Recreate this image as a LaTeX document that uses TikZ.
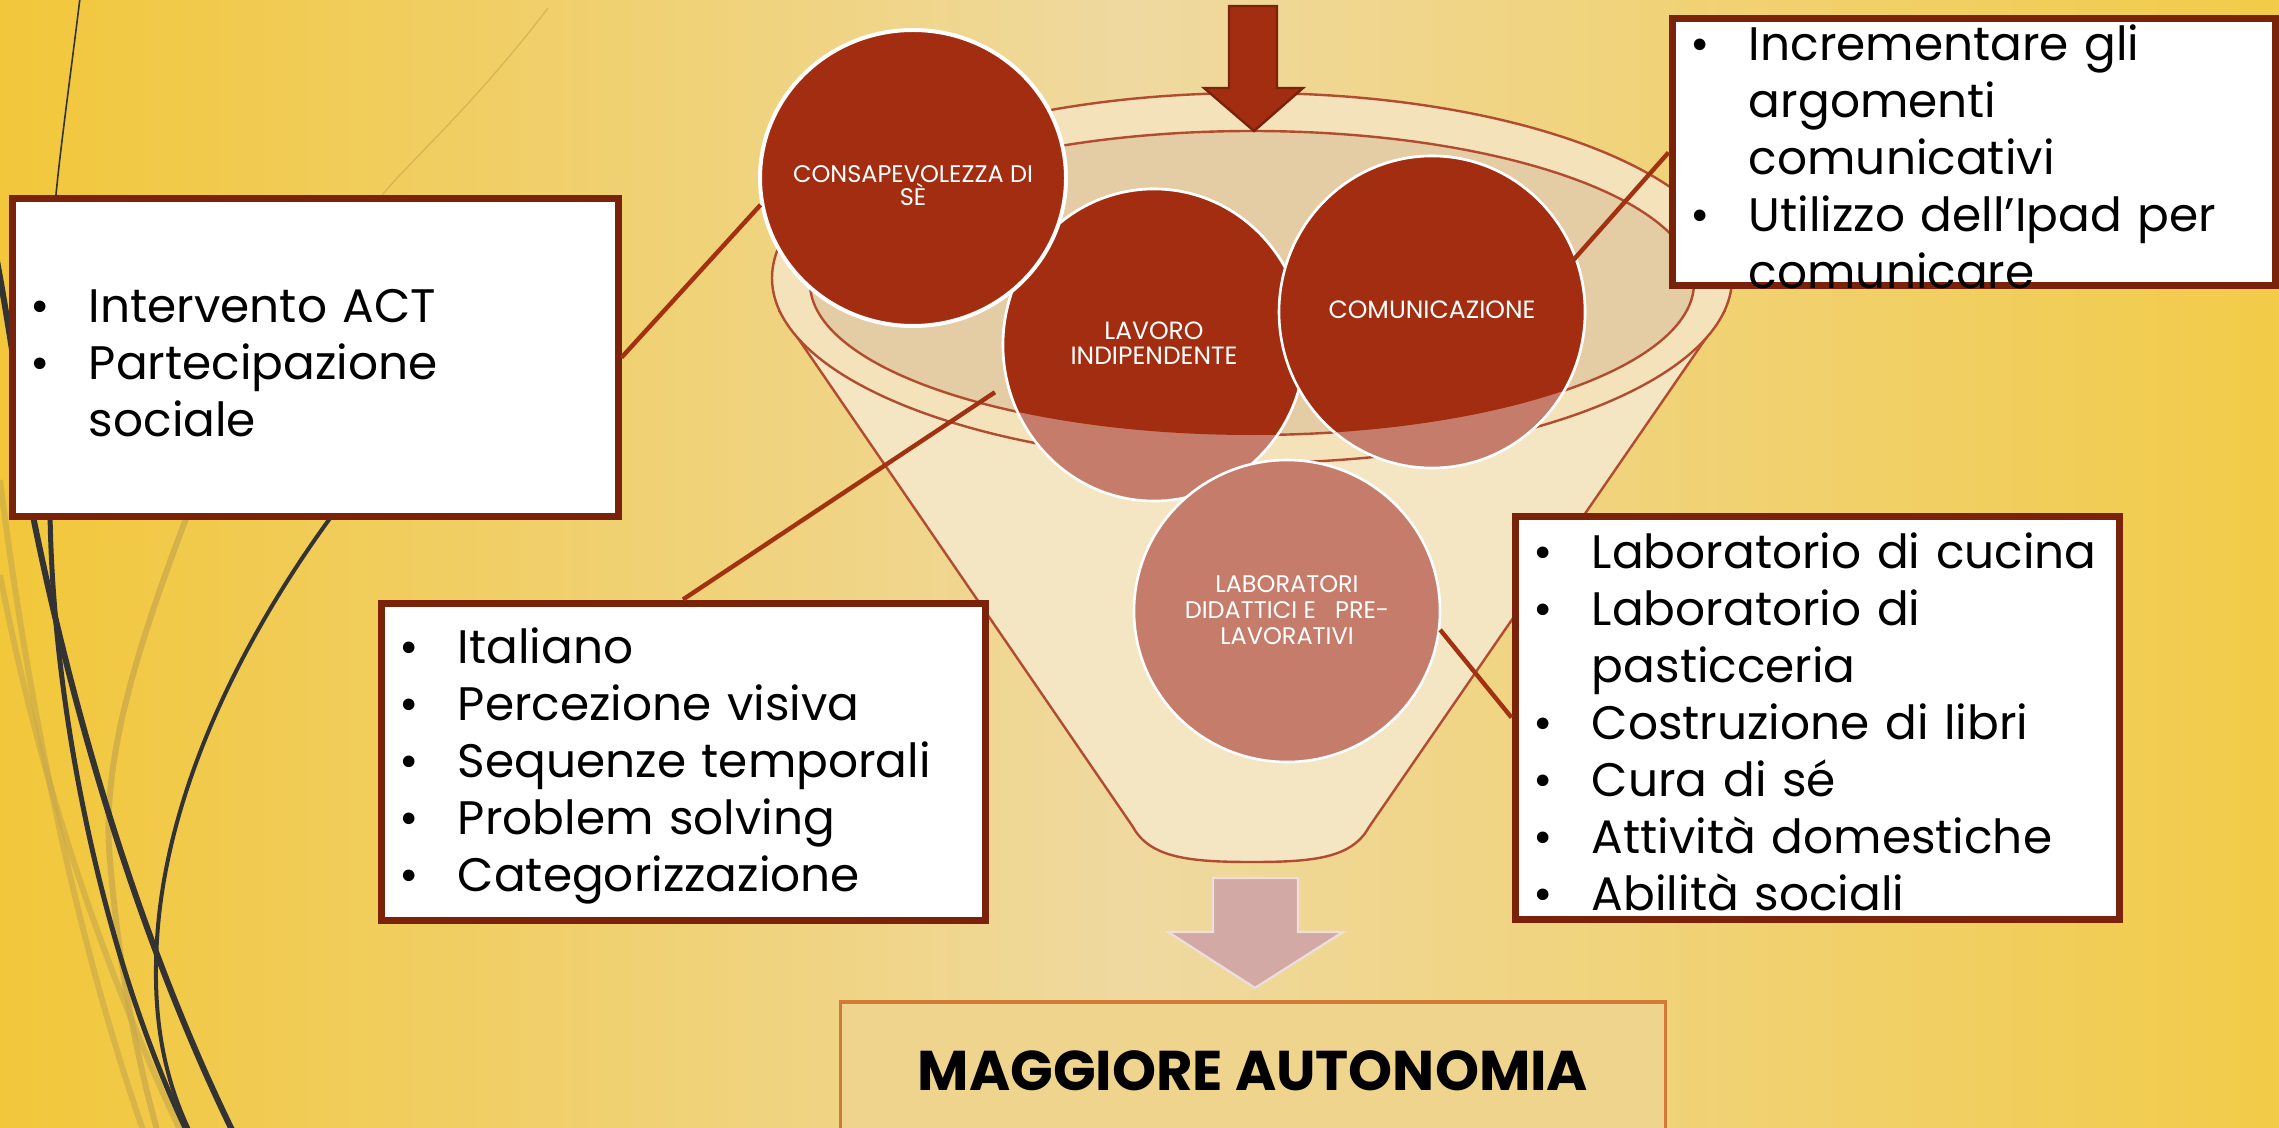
\documentclass[tikz,border=0pt]{standalone}
\usepackage{fontspec}
\setmainfont{Poppins}
\usetikzlibrary{shapes.geometric}
\definecolor{dred}{HTML}{A32D10}
\definecolor{rose}{HTML}{C67C6B}
\definecolor{boxred}{HTML}{7B220A}
\definecolor{connred}{HTML}{A23112}
\definecolor{rimred}{HTML}{B24B30}
\definecolor{cream}{HTML}{F4E6C2}
\definecolor{creamrim}{HTML}{F3E2BA}
\definecolor{tanin}{HTML}{E4CDA4}
\definecolor{bgyel}{HTML}{F2C73A}
\definecolor{bgpale}{HTML}{EFD9A0}
\definecolor{bgyeltwo}{HTML}{F2CB48}
\definecolor{pinkar}{HTML}{D3A9A5}
\definecolor{maborder}{HTML}{D27B38}
\definecolor{mafill}{HTML}{EFD48E}
\definecolor{darkline}{HTML}{333333}
\definecolor{tanline}{HTML}{C8A84A}

\newcommand\bitem[1]{\par\noindent\hangindent=29pt\hangafter=1\makebox[29pt][l]{•}#1}

\begin{document}
\begin{tikzpicture}[x=0.5pt,y=-0.5pt,
  listbox/.style 2 args={draw=boxred, line width=3.5pt, fill=white, inner sep=0pt, minimum width=#1, minimum height=#2},
  listtext/.style={inner sep=0pt, text width=290pt, anchor=west, yshift=3pt, font=\fontsize{23.5}{28.5}\selectfont},
  circ/.style={ellipse, draw=white, line width=1.3pt, inner sep=0pt},
  ctext/.style={text=white, align=center, inner sep=0pt},
  conn/.style={draw=connred, line width=2.2pt},
  rim/.style={draw=rimred, line width=1.2pt}]

\useasboundingbox (0,0) rectangle (2279,1128);
\clip (0,0) rectangle (2279,1128);
\shade[left color=bgyel, right color=bgyeltwo, middle color=bgpale] (0,0) rectangle (2279,1128);

% decorative curves
\draw[tanline, opacity=0.6, line width=0.7pt] (548,8) .. controls (470,110) and (410,160) .. (378,200);
\draw[tanline, opacity=0.7, line width=3pt] (187,516) .. controls (140,640) and (100,760) .. (110,860) .. controls (118,960) and (135,1050) .. (157,1130);
\draw[tanline, opacity=0.6, line width=3pt] (0,575) .. controls (40,780) and (100,960) .. (180,1130);
\draw[tanline, opacity=0.6, line width=3pt] (0,480) .. controls (30,720) and (80,950) .. (143,1130);
\draw[darkline, line width=0.8pt] (80,-2) .. controls (70,80) and (60,150) .. (55,205);
\draw[darkline, line width=3pt] (-5,250) .. controls (10,330) and (25,430) .. (33,516) .. controls (60,650) and (120,900) .. (233,1132);
\draw[darkline, line width=2.5pt] (50,510) .. controls (52,700) and (100,950) .. (187,1132);
\draw[darkline, line width=2pt] (430,400) .. controls (330,500) and (170,720) .. (157,940) .. controls (152,1020) and (165,1080) .. (190,1132);

% funnel
\filldraw[fill=cream, rim] (780,312) -- (1133,827) .. controls (1150,858) and (1190,862) .. (1252,862) .. controls (1314,862) and (1352,858) .. (1369,827) -- (1724,312) -- cycle;
\filldraw[fill=creamrim, rim] (1252,278) ellipse [x radius=240pt, y radius=92.5pt];
\filldraw[fill=tanin, rim] (1252,283) ellipse [x radius=221pt, y radius=76pt];

% circles
\node[circ, fill=rose, minimum width=151pt, minimum height=156pt] (lavoro) at (1154,345) {};
\node[circ, fill=rose, minimum width=153pt, minimum height=156pt] (comun) at (1432,312) {};
\begin{scope}
\clip (1252,283) ellipse [x radius=221pt, y radius=76pt];
\filldraw[fill=dred, draw=white, line width=1.3pt] (lavoro.center) ellipse [x radius=75.5pt, y radius=78pt];
\filldraw[fill=dred, draw=white, line width=1.3pt] (comun.center) ellipse [x radius=76.5pt, y radius=78pt];
\end{scope}
\node[circ, fill=rose, minimum width=153pt, minimum height=151pt] (lab) at (1287,611) {};
\node[circ, fill=dred, line width=2pt, minimum width=153pt, minimum height=148pt] (consap) at (913,178) {};

\node[ctext, font=\fontsize{12}{11.5}\selectfont] (consaptxt) at (913,186) {CONSAPEVOLEZZA DI\\SÈ};
\node[ctext, font=\fontsize{12.5}{12.5}\selectfont] (lavorotxt) at (1154,343) {LAVORO\\INDIPENDENTE};
\node[ctext, font=\fontsize{12.5}{12.5}\selectfont] (comuntxt) at (1432,310) {COMUNICAZIONE};
\node[ctext, font=\fontsize{12}{13}\selectfont] (labtxt) at (1287,610) {LABORATORI\\DIDATTICI E\ \ \ PRE-\\LAVORATIVI};

% arrows
\filldraw[fill=dred, draw=boxred, line width=1.2pt] (1229,6) -- (1277,6) -- (1277,88) -- (1303,88) -- (1254,131) -- (1204,88) -- (1229,88) -- cycle;
\filldraw[fill=pinkar, draw=white!60!pinkar, line width=1.2pt] (1213,878) -- (1298,878) -- (1298,932) -- (1343,932) -- (1255,988) -- (1168,932) -- (1213,932) -- cycle;

% boxes
\node[listbox={303pt}{158.5pt}] (leftbox) at (315,357.5) {};
\node[listbox={301.5pt}{133.5pt}] (trbox) at (1973.5,152.5) {};
\node[listbox={302pt}{158.5pt}] (italbox) at (683,761.5) {};
\node[listbox={302pt}{201.5pt}] (lrbox) at (1817,717.5) {};

\draw[conn] (leftbox.east) -- (consap.190);
\draw[conn, shorten >=7pt] (italbox.north) -- (lavoro.195);
\draw[conn, shorten >=-4pt] (trbox.west) -- (comun.21);
\draw[conn] (lab.-7) -- (lrbox.west);

\node[listtext] (lefttxt) at ([xshift=11pt]leftbox.west) {\raggedright\bitem{Intervento ACT}\bitem{Partecipazione\newline sociale}\par};
\node[listtext] (trtxt) at ([xshift=11pt]trbox.west) {\raggedright\bitem{Incrementare gli\newline argomenti\newline comunicativi}\bitem{Utilizzo dell’Ipad per\newline comunicare}\par};
\node[listtext] (italtxt) at ([xshift=11pt]italbox.west) {\raggedright\bitem{Italiano}\bitem{Percezione visiva}\bitem{Sequenze temporali}\bitem{Problem solving}\bitem{Categorizzazione}\par};
\node[listtext] (lrtxt) at ([xshift=11pt]lrbox.west) {\raggedright\bitem{Laboratorio di cucina}\bitem{Laboratorio di\newline pasticceria}\bitem{Costruzione di libri}\bitem{Cura di sé}\bitem{Attività domestiche}\bitem{Abilità sociali}\par};

% result
\node[draw=maborder, line width=1.8pt, fill=mafill, minimum width=412.5pt, minimum height=69pt, font=\bfseries\fontsize{28}{30}\selectfont] (result) at (1253,1071) {MAGGIORE AUTONOMIA};
\end{tikzpicture}
\end{document}
